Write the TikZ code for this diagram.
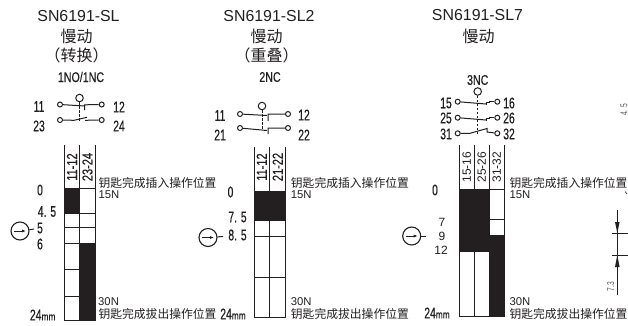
\documentclass[tikz,border=0pt]{standalone}
\usepackage{fontspec}
\usetikzlibrary{arrows.meta}
\setmainfont{Liberation Sans}
\newfontfamily\cjk{Noto Sans CJK SC}
\newfontfamily\nfa[FakeStretch=0.67,FakeBold=0.35]{Liberation Sans}
\newfontfamily\nfb[FakeStretch=0.76,FakeBold=0.35]{Liberation Sans}
\newfontfamily\nfc[FakeStretch=0.67]{Liberation Sans}
\definecolor{ink}{HTML}{231F20}
\newcommand{\fs}[1]{\fontsize{#1}{#1}\selectfont}
\newcommand{\mmlab}{{\nfa\fs{15.5}24}{\nfb\fs{11}mm}}
\tikzset{
  x=1pt,y=-1pt,
  lab/.style={inner sep=0pt,text=ink,anchor=center},
  title/.style={lab,font=\fs{15.9}},
  cn/.style={lab,font=\cjk\fs{16}},
  cnsmall/.style={lab,anchor=west,font=\cjk\fs{11.8}},
  force/.style={lab,anchor=west,font=\fs{11.3}},
  narrow/.style={lab,font=\nfa\fs{15.5}},
  narrowb/.style={lab,font=\nfb\fs{14}},
  reg/.style={lab,font=\fs{12}},
  head/.style={lab,rotate=90,font=\nfb\fs{14.5}},
  headreg/.style={lab,rotate=90,font=\fs{12}},
  term/.style={circle,draw=ink,line width=1pt,fill=white,inner sep=0pt,minimum size=5pt},
  knob/.style={circle,draw=ink,line width=1pt,fill=white,inner sep=0pt,minimum size=7.5pt},
  wire/.style={draw=ink,line width=1pt},
  link/.style={draw=ink,line width=0.9pt,dash pattern=on 2.5pt off 1.5pt},
  grid/.style={draw=ink,line width=1pt},
  cell/.style={fill=ink,draw=none},
  dial/.style={circle,draw=ink,line width=1.1pt,inner sep=0pt,minimum size=18pt},
  dialarrow/.style={ink,line width=0.9pt,-{Latex[length=4pt,width=3pt]}},
}
\begin{document}
\begin{tikzpicture}
\useasboundingbox (0,0) rectangle (628,325);
\fill[white] (0,0) rectangle (628,325);

% ---------- Column 1
\node[title] (t1) at (78.5,16) {SN6191-SL};
\node[cn] (t1a) at (76.5,36) {慢动};
\node[cn] (t1b) at (76.5,55) {（转换）};
\node[narrowb] (t1c) at (81,77) {1NO/1NC};
\node[narrow] at (39,106.5) {11};
\node[narrow] at (119,107) {12};
\node[narrow] at (39,126) {23};
\node[narrow] at (119,126) {24};
\node[knob] (k1) at (79.5,98) {};
\node[term] (a1) at (60,104.5) {};
\node[term] (b1) at (101.7,104.5) {};
\node[term] (a2) at (60,120) {};
\node[term] (b2) at (101.7,120) {};
\draw[link] (k1) -- (79.5,122);
\draw[wire] (a1) -- (85,106);
\draw[wire] (84.5,110) -- (84.5,104.8) -- (b1);
\draw[wire] (a2) -- (74,120.3) -- (87,117.3);
\draw[wire] (85,120.3) -- (b2);
% table 1
\fill[cell] (64,188) rectangle (79.5,213);
\fill[cell] (79.5,243) rectangle (95,320);
\draw[grid] (64,145) -- (64,320) -- (95,320) -- (95,145);
\draw[grid] (79.5,145) -- (79.5,320);
\draw[grid] (64,188) -- (95,188);
\draw[grid] (64,213) -- (95,213);
\draw[grid] (64,227) -- (96,227);
\draw[grid] (64,243) -- (95,243);
\draw[grid] (64,269) -- (79.5,269);
\draw[grid] (64,296) -- (79.5,296);
\node[head] at (72,167) {11-12};
\node[head] at (87.5,167) {23-24};
\node[narrow] at (40,190) {0};
\node[narrow] at (47,211.5) {4. 5};
\node[narrow] (p1) at (40,228) {5};
\node[narrow] at (40,244) {6};
\node[lab] at (42.7,315) {\mmlab};
\node[dial] (d1) at (20,231) {};
\coordinate (q1) at (34,229);
\draw[wire] (d1) -- (q1);
\draw[dialarrow] (14,231) -- (26,231);
\node[cnsmall] at (98.3,182.7) {钥匙完成插入操作位置};
\node[force] at (98.3,195) {15N};
\node[force] at (98,301.7) {30N};
\node[cnsmall] at (98.3,314) {钥匙完成拔出操作位置};

% ---------- Column 2
\node[title] (t2) at (269,16) {SN6191-SL2};
\node[cn] (t2a) at (266.5,36) {慢动};
\node[cn] (t2b) at (266.5,55) {（重叠）};
\node[narrowb] (t2c) at (270,77) {2NC};
\node[narrow] at (220,115.5) {11};
\node[narrow] at (304,115) {12};
\node[narrow] at (220,135) {21};
\node[narrow] at (304,135) {22};
\node[knob] (k2) at (262,106) {};
\node[term] (c1) at (240,114) {};
\node[term] (d1t) at (288,114) {};
\node[term] (c2) at (240,128) {};
\node[term] (d2t) at (288,128) {};
\draw[link] (k2) -- (262,130);
\draw[wire] (c1) -- (267,115.5);
\draw[wire] (268,121) -- (268,114.2) -- (d1t);
\draw[wire] (c2) -- (267,130.5);
\draw[wire] (268,134) -- (268,128.2) -- (d2t);
% table 2
\fill[cell] (254,191) rectangle (285,220);
\draw[grid] (254,147) -- (254,317) -- (285,317) -- (285,147);
\draw[grid] (269.5,147) -- (269.5,317);
\draw[grid] (254,220) -- (285,220);
\draw[grid] (254,236) -- (285,236);
\draw[grid] (254,277) -- (285,277);
\node[head] at (261.7,167) {11-12};
\node[head] at (277.7,167) {21-22};
\node[narrow] at (230.5,192) {0};
\node[narrow] at (237.5,217) {7. 5};
\node[narrow] (p2) at (237.5,235) {8. 5};
\node[lab] at (233,314) {\mmlab};
\node[dial] (d2) at (208,237.5) {};
\coordinate (q2) at (223,236.5);
\draw[wire] (d2) -- (q2);
\draw[dialarrow] (202,237.5) -- (214,237.5);
\node[cnsmall] at (290.7,182.7) {钥匙完成插入操作位置};
\node[force] at (290.7,195) {15N};
\node[force] at (290.7,301.7) {30N};
\node[cnsmall] at (290.7,314) {钥匙完成拔出操作位置};

% ---------- Column 3
\node[title] (t3) at (477.5,15) {SN6191-SL7};
\node[cn] (t3a) at (478.5,36) {慢动};
\node[narrowb] (t3c) at (477.7,80) {3NC};
\node[narrow] at (446,103) {15};
\node[narrow] at (509,103) {16};
\node[narrow] at (446,118) {25};
\node[narrow] at (509,118) {26};
\node[narrow] at (446,134) {31};
\node[narrow] at (509,134) {32};
\node[knob] (k3) at (477.7,91.5) {};
\node[term] (e1) at (457.7,101.7) {};
\node[term] (f1) at (497.3,101.7) {};
\node[term] (e2) at (457.7,117.7) {};
\node[term] (f2) at (497.3,117.7) {};
\node[term] (e3) at (457.7,133.3) {};
\node[term] (f3) at (497.3,133.3) {};
\draw[link] (k3) -- (477.7,134);
\draw[wire] (e1) -- (486,104);
\draw[wire] (486,104.5) -- (486,102.5) -- (489,102.5) -- (489,101.7) -- (f1);
\draw[wire] (e2) -- (486,120);
\draw[wire] (486,120.5) -- (486,118.5) -- (489,118.5) -- (489,117.7) -- (f2);
\draw[wire] (e3) -- (470,133.3) -- (487,128.5) -- (487,132) -- (f3);
% table 3
\fill[cell] (459.3,189) rectangle (489,252);
\fill[cell] (489,235) rectangle (504.5,316);
\draw[grid] (459.3,145) -- (459.3,316) -- (504.5,316) -- (504.5,145);
\draw[grid] (474.2,145) -- (474.2,316);
\draw[grid] (489,145) -- (489,316);
\draw[grid] (459.3,189) -- (504.5,189);
\draw[grid] (489,219) -- (504.5,219);
\fill[cell] (459.3,189) rectangle (489,252);
\node[headreg] at (466.7,167) {15-16};
\node[headreg] at (481.7,167) {25-26};
\node[headreg] at (496.7,167) {31-32};
\node[narrow] at (435,190) {0};
\node[reg] at (442,222.7) {7};
\node[reg] (p3) at (442,236.7) {9};
\node[reg] at (441,250.7) {12};
\node[lab] at (437,313) {\mmlab};
\node[dial] (d3) at (411.7,236) {};
\coordinate (q3) at (426,236);
\draw[wire] (d3) -- (q3);
\draw[dialarrow] (405.7,236) -- (417.7,236);
\node[cnsmall] at (509.3,183) {钥匙完成插入操作位置};
\node[force] at (509.3,195) {15N};
\node[force] at (509.3,302) {30N};
\node[cnsmall] at (509.3,314) {钥匙完成拔出操作位置};

% ---------- Cropped drawing at the right edge
\draw[ink,line width=0.8pt] (617.3,210) -- (617.3,295);
\fill[ink] (617.3,233) -- (615,222) -- (619.6,222) -- cycle;
\fill[ink] (617.3,255) -- (615,267) -- (619.6,267) -- cycle;
\draw[ink,line width=0.7pt] (611.7,233) -- (628,233);
\draw[ink,line width=0.7pt] (611.7,255) -- (628,255);
\node[lab,rotate=90,font=\nfc\fs{10},text=ink!75] at (610.7,286.7) {7.3};
\node[lab,rotate=90,font=\nfc\fs{10},text=ink!75] at (624,110) {4. 5};
\draw[ink,line width=0.6pt] (625,191.5) -- (627,194);
\end{tikzpicture}
\end{document}
